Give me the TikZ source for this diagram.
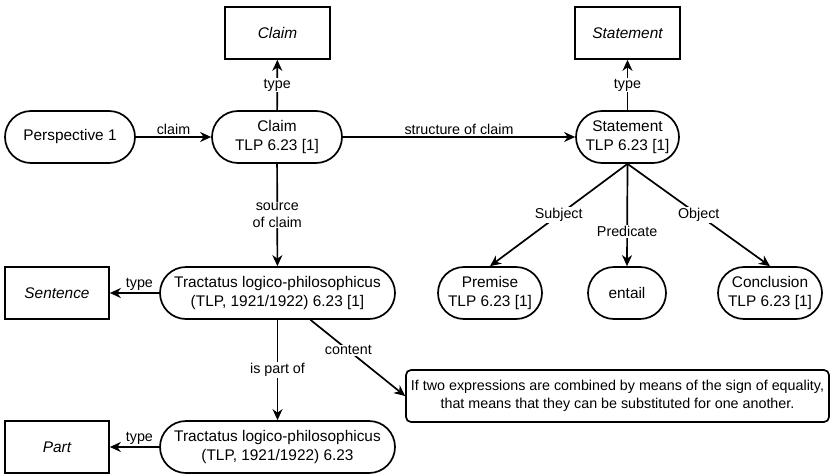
\documentclass[tikz,border=0pt]{standalone}
\usepackage{fontspec}
\setmainfont{Liberation Sans}
\usetikzlibrary{arrows.meta}
\newcommand\nodefont{\fontsize{15.4}{18.5}\selectfont}
\newcommand\lblfont{\fontsize{14.3}{17}\selectfont}
\begin{document}
\begin{tikzpicture}[x=1pt,y=-1pt,
  base/.style={draw=black, line width=1.7pt, align=center, inner sep=0pt,
               minimum height=52pt, font=\nodefont},
  pill/.style={base, rounded corners=26pt},
  typebox/.style={base, rectangle, font=\nodefont\itshape},
  textbox/.style={base, rounded corners=5pt, font=\fontsize{14.3}{18.5}\selectfont},
  link/.style={line width=1.7pt, -{Stealth[length=11pt,width=10pt,inset=3.5pt]}},
  lbl/.style={font=\lblfont, fill=white, inner sep=1pt, align=center},
  lblup/.style={font=\lblfont, inner sep=1.5pt, above}]
\useasboundingbox (0,0) rectangle (830,474);

% class boxes
\node[typebox, minimum width=105pt] (claimT) at (277.5,33) {Claim};
\node[typebox, minimum width=105pt] (stmtT)  at (627.5,33) {Statement};
\node[typebox, minimum width=104pt] (sentT)  at (57,293) {Sentence};
\node[typebox, minimum width=104pt] (partT)  at (57,447) {Part};

% instance nodes
\node[pill, minimum width=130pt] (persp) at (70,137) {Perspective 1};
\node[pill, minimum width=130pt] (claim) at (277,137) {Claim\\TLP 6.23 [1]};
\node[pill, minimum width=103pt] (stmt)  at (627.5,137) {Statement\\TLP 6.23 [1]};
\node[pill, minimum width=235pt] (tlp1)  at (277.5,293) {Tractatus logico-philosophicus\\(TLP, 1921/1922) 6.23 [1]};
\node[pill, minimum width=235pt] (tlp2)  at (277.5,447) {Tractatus logico-philosophicus\\(TLP, 1921/1922) 6.23};
\node[pill, minimum width=104pt] (prem)  at (490,293) {Premise\\TLP 6.23 [1]};
\node[pill, minimum width=78pt]  (ent)   at (627,293) {entail};
\node[pill, minimum width=104pt] (concl) at (770,293) {Conclusion\\TLP 6.23 [1]};
\node[textbox, minimum width=423pt] (cont) at (617.5,396)
  {If two expressions are combined by means of the sign of equality,\\that means that they can be substituted for one another.};

% connectors
\draw[link] (persp) -- node[lblup] {claim} (claim);
\draw[link] (claim) -- node[lbl] {type} (claimT);
\draw[link] (claim) -- node[lblup] {structure of claim} (stmt);
\draw[link] (stmt) -- node[lbl] {type} (stmtT);
\draw[link] (claim) -- node[lbl] {source\\of claim} (tlp1);
\draw[link] (tlp1) -- node[lblup, pos=0.4] {type} (sentT);
\draw[link] (tlp1) -- node[lbl] {is part of} (tlp2);
\draw[link] ([xshift=33pt]tlp1.south) -- node[lbl, pos=0.4] {content} (cont.west);
\draw[link] (tlp2) -- node[lblup, pos=0.4] {type} (partT);
\draw[link] (stmt.south) -- node[lbl] {Subject} (prem.north);
\draw[link] (stmt.south) -- node[lbl, pos=0.66] {Predicate} (ent.north);
\draw[link] (stmt.south) -- node[lbl] {Object} (concl.north);
\end{tikzpicture}
\end{document}
